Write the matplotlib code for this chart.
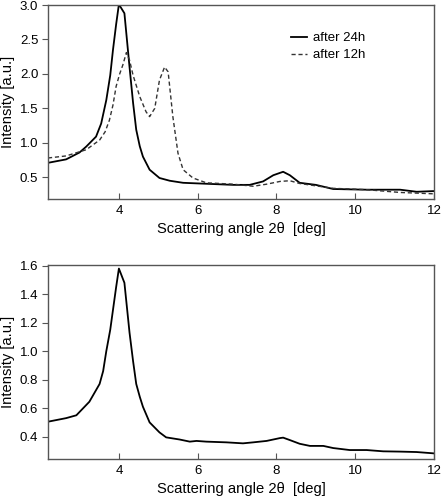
import numpy as np
import matplotlib
matplotlib.use("Agg")
import matplotlib.pyplot as plt

plt.rcParams['font.family'] = ['Liberation Sans', 'DejaVu Sans']

# Top panel: after 24h (solid)
x24 = [2.2, 2.66, 3.0, 3.17, 3.42, 3.55, 3.68, 3.78, 3.85, 3.93, 4.0, 4.14, 4.27, 4.36,
       4.44, 4.53, 4.61, 4.78, 5.03, 5.29, 5.63, 6.05, 6.9, 7.32, 7.66, 7.92, 8.17, 8.34,
       8.59, 9.0, 9.44, 10.29, 11.14, 11.56, 12.0]
y24 = [0.71, 0.76, 0.86, 0.945, 1.09, 1.28, 1.62, 1.98, 2.35, 2.72, 3.01, 2.88, 2.1, 1.58,
       1.19, 0.95, 0.8, 0.61, 0.49, 0.45, 0.42, 0.41, 0.39, 0.39, 0.44, 0.53, 0.58, 0.53,
       0.42, 0.39, 0.33, 0.32, 0.32, 0.29, 0.30]

# Top panel: after 12h (dashed)
x12 = [2.2, 2.66, 3.17, 3.51, 3.65, 3.76, 3.85, 3.93, 4.02, 4.1, 4.19, 4.27, 4.36, 4.53,
       4.69, 4.78, 4.91, 5.03, 5.16, 5.25, 5.37, 5.5, 5.63, 5.88, 6.22, 6.9, 7.41, 7.75,
       8.09, 8.34, 8.59, 9.44, 10.29, 11.14, 12.0]
y12 = [0.78, 0.81, 0.9, 1.04, 1.16, 1.33, 1.55, 1.82, 2.0, 2.13, 2.31, 2.2, 1.98, 1.67,
       1.45, 1.38, 1.5, 1.91, 2.1, 2.03, 1.38, 0.85, 0.61, 0.49, 0.42, 0.40, 0.37, 0.40,
       0.44, 0.45, 0.41, 0.34, 0.32, 0.28, 0.26]

# Bottom panel
xb = [2.2, 2.66, 2.92, 3.25, 3.51, 3.6, 3.68, 3.78, 3.85, 3.93, 4.0, 4.14, 4.27, 4.36,
      4.44, 4.53, 4.61, 4.78, 5.03, 5.2, 5.54, 5.8, 5.97, 6.22, 6.73, 7.15, 7.41, 7.75,
      8.09, 8.17, 8.34, 8.59, 8.85, 9.19, 9.44, 9.86, 10.29, 10.71, 11.14, 11.56, 11.98]
yb = [0.505, 0.53, 0.55, 0.645, 0.77, 0.86, 1.0, 1.15, 1.29, 1.45, 1.58, 1.48, 1.13, 0.93,
      0.77, 0.68, 0.61, 0.50, 0.43, 0.395, 0.38, 0.365, 0.37, 0.365, 0.36, 0.353, 0.36,
      0.37, 0.39, 0.393, 0.376, 0.35, 0.335, 0.335, 0.32, 0.306, 0.306, 0.297, 0.295,
      0.292, 0.283]

xticks = [4, 6, 8, 10, 12]
top_yticks = [0.5, 1.0, 1.5, 2.0, 2.5, 3.0]
bot_yticks = [0.4, 0.6, 0.8, 1.0, 1.2, 1.4, 1.6]

fig = plt.figure(figsize=(4.42, 4.99), dpi=100)
ax1 = fig.add_axes([48/442, 1-199/499, 386/442, 194/499])
ax2 = fig.add_axes([48/442, 1-459.3/499, 386/442, 194.3/499])

spine_c = '#555555'
for ax in (ax1, ax2):
    for s in ax.spines.values():
        s.set_color(spine_c)
        s.set_linewidth(1.0)
    ax.set_xlim(2.2, 12)
    ax.set_xticks(xticks)
    ax.set_xticklabels([str(t) for t in xticks])
    ax.tick_params(axis='x', direction='in', length=4, color=spine_c, labelsize=9.5, pad=4)
    ax.tick_params(axis='y', direction='out', length=4, color=spine_c, labelsize=9.5, pad=3)
    ax.set_xlabel('Scattering angle 2\u03b8  [deg]', fontsize=10.6, labelpad=4)
    ax.set_ylabel('Intensity [a.u.]', fontsize=10.6)
    ax.yaxis.set_label_coords(-0.085, 0.5)

ax1.plot(x24, y24, color='black', lw=1.3, label='after 24h')
ax1.plot(x12, y12, color='#333333', lw=1.0, ls=(0, (3, 2)), label='after 12h')
ax1.set_ylim(0.185, 3.0)
ax1.set_yticks(top_yticks)
ax1.set_yticklabels(['%.1f' % t for t in top_yticks])
ax1.legend(loc='upper left', bbox_to_anchor=(0.63, 0.86), frameon=False, fontsize=9.5,
           handlelength=1.2, handletextpad=0.45, labelspacing=0.35, borderpad=0,
           borderaxespad=0)

ax2.plot(xb, yb, color='black', lw=1.3)
ax2.set_ylim(0.241, 1.605)
ax2.set_yticks(bot_yticks)
ax2.set_yticklabels(['%.1f' % t for t in bot_yticks])

fig.savefig('out.png', dpi=100)
